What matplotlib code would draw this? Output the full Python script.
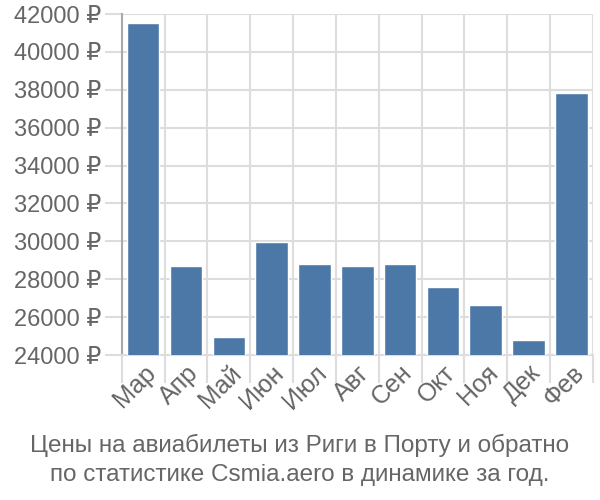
import numpy as np
import matplotlib
matplotlib.use('Agg')
from matplotlib import pyplot as plt

plt.rcParams['font.family'] = ['Liberation Sans', 'DejaVu Sans']

# monthly prices, rubles
months = ['Мар', 'Апр', 'Май', 'Июн', 'Июл', 'Авг', 'Сен', 'Окт', 'Ноя', 'Дек', 'Фев']
prices = [41520, 28710, 24930, 29980, 28780, 28710, 28780, 27570, 26640, 24790, 37830]
yticks = [24000, 26000, 28000, 30000, 32000, 34000, 36000, 38000, 40000, 42000]
title = 'Цены на авиабилеты из Риги в Порту и обратно\nпо статистике Csmia.aero в динамике за год.'

grey = '#666666'
fig = plt.figure(figsize=(6, 5), dpi=100)
ax = fig.add_axes([0.203, 0.29, 0.785, 0.682])

x = np.arange(len(months))
ax.bar(x, prices, width=0.76, color='#4c78a8', edgecolor='white', linewidth=1, zorder=3)

ax.set_xlim(-0.5, len(months) - 0.5)
ax.set_ylim(24000, 42000)
ax.set_yticks(yticks)
ax.set_yticklabels([str(v) + ' ₽' for v in yticks])

# grid on category boundaries
ax.set_xticks(x)
ax.set_xticklabels(months, rotation=45, ha='right', rotation_mode='anchor')
ax.set_xticks(np.arange(len(months) + 1) - 0.5, minor=True)
ax.grid(True, which='minor', axis='x', color='#dddddd', linewidth=1.5, zorder=0)
ax.grid(True, which='major', axis='y', color='#dddddd', linewidth=1.5, zorder=0)
ax.tick_params(axis='x', which='major', length=0, pad=4, labelsize=18, labelcolor=grey)
ax.tick_params(axis='x', which='minor', length=20, width=1.5, color='#dddddd')
ax.tick_params(axis='y', length=12, width=1.5, color='#dddddd', labelsize=17, labelcolor=grey, pad=3)

for s in ['top', 'right']:
    ax.spines[s].set_visible(False)
ax.spines['left'].set_color('#aaaaaa')
ax.spines['left'].set_linewidth(1.5)
ax.spines['bottom'].set_color('#dddddd')
ax.spines['bottom'].set_linewidth(1.5)

fig.text(0.5, 0.08, title, ha='center', va='center', fontsize=17.5, color=grey, linespacing=1.45)

plt.savefig('out.png', dpi=100)
